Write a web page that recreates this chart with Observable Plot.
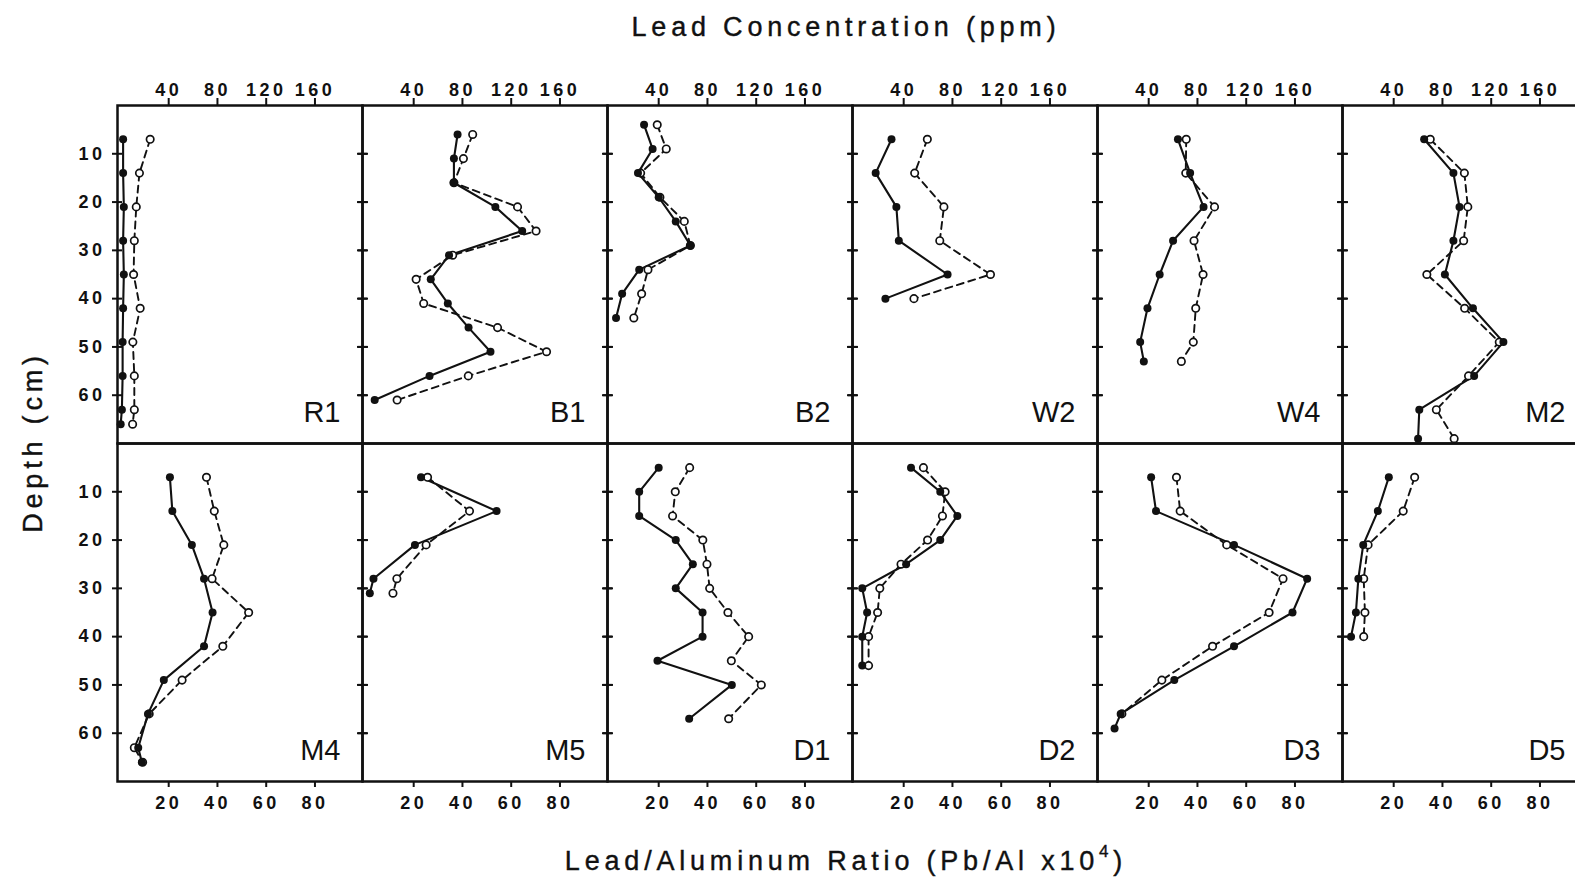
<!DOCTYPE html>
<html><head><meta charset="utf-8">
<script src="https://cdn.jsdelivr.net/npm/d3@7"></script>
<script src="https://cdn.jsdelivr.net/npm/@observablehq/plot@0.6"></script>
<style>
html,body{margin:0;padding:0;background:#fff;overflow:hidden;width:1575px;height:882px;}
#wrap{position:relative;width:1575px;height:882px;overflow:hidden;}
#chart{position:absolute;left:0;top:0;}
.t{position:absolute;font-family:"Liberation Sans",Arial,sans-serif;color:#111;white-space:nowrap;font-size:27px;letter-spacing:4.8px;transform:translate(-50%,-50%);-webkit-text-stroke:0.4px #111;}
#ylab{transform:translate(-50%,-50%) rotate(-90deg);}
g[aria-label$="tick label"] text{letter-spacing:3.5px;}
</style></head><body>
<div id="wrap">
<div id="chart"></div>
<div class="t" id="ttop" style="left:846px;top:27px;">Lead Concentration (ppm)</div>
<div class="t" id="tbot" style="left:846px;top:861px;">Lead/Aluminum Ratio (Pb/Al x10<sup style="font-size:17px;position:relative;top:-4px;vertical-align:top;">4</sup>)</div>
<div class="t" id="ylab" style="left:33px;top:442px;">Depth (cm)</div>
</div>
<script>
// Panels (top row then bottom row)
const panelNames = ["R1","B1","B2","W2","W4","M2","M4","M5","D1","D2","D3","D5"];
// Axis ticks
const topTicksPpm = [40, 80, 120, 160];
const bottomTicks = [20, 40, 60, 80];
const depthTicks = [10, 20, 30, 40, 50, 60];

// filled dots / solid line: lead concentration (ppm, top axis)
// open dots / dashed line: Pb/Al ratio x10^4 (bottom axis)
const depthR1 = [7,14,21,28,35,42,49,56,63,66];
const concR1  = [2.6,2.6,3.2,2.6,3.2,2.6,2.2,2.2,1.6,0.6];
const ratioR1 = [12.4,8.0,6.7,5.9,5.6,8.3,5.3,5.9,5.9,5.2];

const depthB1 = [6,11,16,21,26,31,36,41,46,51,56,61];
const concB1  = [76,73,73,107,129,69,54,68,85,103,53,8];
const ratioB1 = [44.2,40.4,36.5,62.6,70.2,36,21.0,24.1,54.4,74.5,42.4,13.2];

const depthB2 = [4,9,14,19,24,29,34,39,44];
const concB2  = [28,35,23,40,54,66,24,10,5];
const ratioB2 = [19.4,23.1,12.6,20.5,30.5,33,15.6,13,9.8];

const depthW2 = [7,14,21,28,35,40];
const concW2  = [30,17,34,36,76,25];
const ratioW2 = [29.7,24.5,36.5,34.8,55.6,24.2];

const depthW4 = [7,14,21,28,35,42,49,53];
const concW4  = [64,74,85,60,49,39,33,36];
const ratioW4 = [35.4,35.2,47,38.6,42.3,39.3,38.3,33.4];

const depthM2 = [7,14,21,28,35,42,49,56,63,69];
const concM2  = [65,89,94,89,82,105,130,106,61,60];
const ratioM2 = [35,49,50.4,48.7,33.6,49.1,63.3,50.7,37.5,44.8];

const depthM4 = [7,14,21,28,35,42,49,56,63,66];
const concM4  = [41,43,59,69,76,69,36,23,15,18];
const ratioM4 = [35.5,38.7,42.6,37.8,52.8,42.2,25.5,12,5.9,9.3];

const depthM5 = [7,14,21,28,31];
const concM5  = [46,108,41,7,4];
const ratioM5 = [25.7,42.9,25.1,13.1,11.5];

const depthD1 = [5,10,15,20,25,30,35,40,45,50,57];
const concD1  = [40,24,24,54,68,54,76,76,39,100,65];
const ratioD1 = [32.7,26.8,25.7,38.1,39.8,40.9,48.4,56.9,49.8,62.1,48.7];

const depthD2 = [5,10,15,20,25,30,35,40,46];
const concD2  = [46,70,84,70,42,6,10,6,6];
const ratioD2 = [28.1,37,35.9,29.8,18.9,10.2,9.3,5.6,5.6];

const depthD3 = [7,14,21,28,35,42,49,56,59];
const concD3  = [42,46,110,170,158,110,61,17,12];
const ratioD3 = [31.4,32.9,52,75.1,69.4,46.2,25.4,9,null];

const depthD5 = [7,14,21,28,35,40];
const concD5  = [36,27,15,11,9,5];
const ratioD5 = [28.6,23.9,9.5,7.7,8.2,7.7];

const depthSets = [depthR1,depthB1,depthB2,depthW2,depthW4,depthM2,depthM4,depthM5,depthD1,depthD2,depthD3,depthD5];
const concSets  = [concR1,concB1,concB2,concW2,concW4,concM2,concM4,concM5,concD1,concD2,concD3,concD5];
const ratioSets = [ratioR1,ratioB1,ratioB2,ratioW2,ratioW4,ratioM2,ratioM4,ratioM5,ratioD1,ratioD2,ratioD3,ratioD5];

// Top axis (ppm) is twice the bottom axis (ratio): 40 ppm aligns with ratio 20
const ppmPerRatio = 2;

const conc = [], ratio = [];
panelNames.forEach((name, i) => {
  const col = i % 6, row = Math.floor(i / 6);
  depthSets[i].forEach((d, j) => {
    if (concSets[i][j] != null) conc.push({panel: name, col, row, depth: d, ppm: concSets[i][j]});
    if (ratioSets[i][j] != null) ratio.push({panel: name, col, row, depth: d, ratio: ratioSets[i][j]});
  });
});

const ink = "#111";
const chart = Plot.plot({
  width: 1590, height: 790,
  marginTop: 105, marginBottom: 9, marginLeft: 117, marginRight: 3,
  style: {fontFamily: "'Liberation Sans', Arial, sans-serif", fontSize: "18px", color: ink, background: "white", maxWidth: "none", overflow: "visible"},
  x: {domain: [-1, 99.5], axis: null},
  y: {domain: [0, 70], reverse: true, axis: null},
  fx: {domain: d3.range(6), padding: 0, axis: null},
  fy: {domain: [0, 1], padding: 0, axis: null},
  marks: [
    Plot.axisX(topTicksPpm.map(v => v / ppmPerRatio), {anchor: "top", tickSize: 8, tickPadding: 2, tickFormat: v => String(v * ppmPerRatio), strokeWidth: 2, fontWeight: "bold", label: null}),
    Plot.axisX(bottomTicks, {anchor: "bottom", tickSize: 6, tickPadding: 9, strokeWidth: 2, fontWeight: "bold", label: null}),
    Plot.axisY(depthTicks, {anchor: "left", tickSize: 0, tickPadding: 12, fontWeight: "bold", label: null}),
    Plot.axisY(depthTicks, {anchor: "left", tickSize: 10, dx: 5, strokeWidth: 2, fill: "none", facetAnchor: null, label: null}),
    Plot.axisY(depthTicks, {anchor: "right", tickSize: 10, dx: -5, strokeWidth: 2, fill: "none", facetAnchor: null, label: null}),
    Plot.frame({stroke: ink, strokeWidth: 2.5}),
    Plot.line(ratio, {fx: "col", fy: "row", x: "ratio", y: "depth", z: "panel", stroke: ink, strokeWidth: 1.9, strokeDasharray: "7,5"}),
    Plot.line(conc, {fx: "col", fy: "row", x: d => d.ppm / ppmPerRatio, y: "depth", z: "panel", stroke: ink, strokeWidth: 2.1}),
    Plot.dot(ratio, {fx: "col", fy: "row", x: "ratio", y: "depth", r: 3.7, fill: "white", stroke: ink, strokeWidth: 1.7}),
    Plot.dot(conc, {fx: "col", fy: "row", x: d => d.ppm / ppmPerRatio, y: "depth", r: 4, fill: ink, stroke: "none"}),
    Plot.text(panelNames, {fx: (d, i) => i % 6, fy: (d, i) => Math.floor(i / 6), text: d => d, frameAnchor: "bottom-right", dx: -22, dy: -22, fontSize: 29, fill: ink})
  ]
});
document.getElementById("chart").appendChild(chart);
</script>
</body></html>
